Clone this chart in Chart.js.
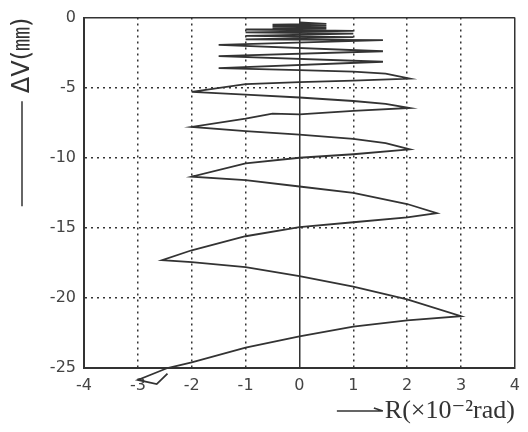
<!DOCTYPE html>
<html>
<head>
<meta charset="utf-8">
<script src="https://cdn.jsdelivr.net/npm/chart.js@4"></script>
<style>
  html, body { margin: 0; padding: 0; background: #fff; }
  #box { width: 528px; height: 432px; }
</style>
</head>
<body>
<div id="box"><canvas id="hysteresis"></canvas></div>
<script>
// R (x10^-2 rad) and ΔV (mm), read point by point along the loading path
const rotation = [
  0, 0.5, -0.5, 0.5, -0.5, 0.5, -0.5, 0.5, -0.5, 0.5, -0.5, 0.5,
  -1, 1, -1, 1, -1, 1, -1,
  1.55, -1.5, 1.55, -1.5, 1.55, -1.5,
  0, 1, 1.6, 2.05,
  1, 0, -1, -2,
  -1, 0, 1, 1.6, 2.05,
  1, 0, -0.5, -1, -2,
  -1, 0, 1, 1.6, 2.05,
  1, 0, -1, -2,
  -1, 0, 1, 2, 2.55,
  2, 1, 0, -1, -2, -2.55,
  -2, -1, 0, 1, 2, 3,
  2, 1, 0, -1, -2, -2.45, -3,
  -2.65, -2.45
];
const displacement = [
  -0.35, -0.45, -0.5, -0.55, -0.6, -0.62, -0.66, -0.7, -0.72, -0.76, -0.8, -0.83,
  -0.85, -0.95, -1.05, -1.15, -1.3, -1.4, -1.55,
  -1.6, -1.95, -2.4, -2.75, -3.15, -3.6,
  -3.75, -3.85, -4.0, -4.35,
  -4.5, -4.6, -4.75, -5.3,
  -5.5, -5.7, -5.95, -6.15, -6.45,
  -6.65, -6.9, -6.85, -7.2, -7.8,
  -8.1, -8.35, -8.65, -8.95, -9.4,
  -9.75, -10.0, -10.4, -11.35,
  -11.6, -12.05, -12.5, -13.3, -13.95,
  -14.25, -14.6, -14.95, -15.6, -16.6, -17.3,
  -17.45, -17.8, -18.45, -19.2, -20.1, -21.3,
  -21.6, -22.05, -22.75, -23.55, -24.6, -25.0, -25.85,
  -26.15, -25.4
];

const xTicks = [-4, -3, -2, -1, 0, 1, 2, 3, 4];
const yTicks = [0, -5, -10, -15, -20, -25];

const xTitle = "R(×10⁻²rad)";
const yTitle = "ΔV(㎜)";

const ink = "#333";
const tickFont = { family: "'DejaVu Sans', sans-serif", size: 16 };
const xTitleFont = { family: "'Liberation Serif', 'DejaVu Serif', serif", size: 26 };
const yTitleFont = { family: "'DejaVu Sans', 'Noto Sans CJK SC', sans-serif", size: 24 };

// the arrow strokes that sit in front of both axis titles
const axisArrows = {
  id: "axisArrows",
  afterDraw(chart) {
    const { ctx, chartArea } = chart;
    ctx.save();
    ctx.strokeStyle = ink;
    ctx.lineWidth = 1.5;

    ctx.font = `${xTitleFont.size}px ${xTitleFont.family}`;
    const xw = ctx.measureText(xTitle).width;
    const ax = chartArea.right - xw - 2;
    const ay = 411;
    ctx.beginPath();
    ctx.moveTo(ax - 46, ay);
    ctx.lineTo(ax, ay);
    ctx.moveTo(ax - 9, ay - 3);
    ctx.lineTo(ax, ay);
    ctx.stroke();

    ctx.font = `${yTitleFont.size}px ${yTitleFont.family}`;
    const yw = ctx.measureText(yTitle).width;
    const by = chartArea.top + yw + 8;
    ctx.beginPath();
    ctx.moveTo(22, by);
    ctx.lineTo(22, by + 105);
    ctx.stroke();
    ctx.restore();
  }
};

const solidAt = (vals) => (c) => (vals.includes(c.tick && c.tick.value) ? [] : [2, 4]);

new Chart(document.getElementById("hysteresis"), {
  type: "scatter",
  data: {
    datasets: [{
      data: rotation.map((r, i) => ({ x: r, y: displacement[i] })),
      showLine: true,
      borderColor: ink,
      borderWidth: 1.8,
      pointRadius: 0,
      tension: 0,
      clip: false
    }]
  },
  options: {
    responsive: true,
    maintainAspectRatio: false,
    animation: false,
    layout: { padding: { top: 16, right: 7, left: 0, bottom: 0 } },
    plugins: { legend: { display: false }, tooltip: { enabled: false } },
    scales: {
      x: {
        type: "linear",
        min: -4,
        max: 4,
        afterBuildTicks: (s) => { s.ticks = xTicks.map(v => ({ value: v })); },
        afterFit: (s) => { s.height = 64; },
        ticks: { color: "#444", font: tickFont, padding: 8 },
        grid: { color: ink, lineWidth: 1.5, drawTicks: false },
        border: { color: ink, width: 2, dash: solidAt([-4, 0, 4]) },
        title: {
          display: true,
          text: xTitle,
          align: "end",
          color: ink,
          font: xTitleFont,
          padding: { top: 0, bottom: 5 }
        }
      },
      y: {
        type: "linear",
        min: -25,
        max: 0,
        afterBuildTicks: (s) => { s.ticks = yTicks.map(v => ({ value: v })); },
        afterFit: (s) => { s.width = 84; },
        ticks: { color: "#444", font: tickFont, padding: 8 },
        grid: { color: ink, lineWidth: 1.5, drawTicks: false },
        border: { color: ink, width: 2, dash: solidAt([0, -25]) },
        title: {
          display: true,
          text: yTitle,
          align: "end",
          color: ink,
          font: yTitleFont,
          padding: { top: 8, bottom: 0 }
        }
      }
    }
  },
  plugins: [axisArrows]
});
</script>
</body>
</html>
